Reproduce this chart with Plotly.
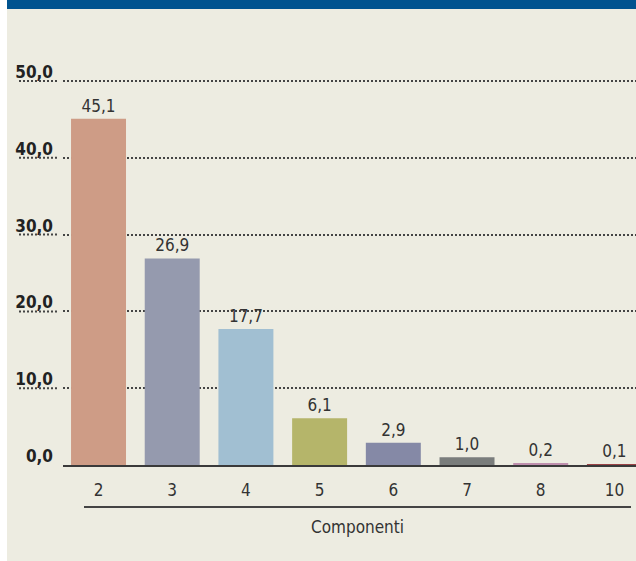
import plotly.graph_objects as go

categories = ["2", "3", "4", "5", "6", "7", "8", "10"]
values = [45.1, 26.9, 17.7, 6.1, 2.9, 1.0, 0.2, 0.1]
colors = ["#CE9C86", "#959AAE", "#A1BFD2", "#B5B56A", "#8589A6", "#7A7D7C", "#BF8FAE", "#9B4346"]
y_ticks = [0, 10, 20, 30, 40, 50]
x_title = "Componenti"

FONT = "Liberation Sans Narrow, DejaVu Sans Condensed, Arial Narrow, sans-serif"
W, H = 636, 561
L, R, T, B = 63, 0, 43, 96
PW = W - L - R
PH = H - T - B

def px_x(p):
    return (p - L) / PW

def px_y(p):
    return (H - B - p) / PH

fig = go.Figure()
fig.add_trace(go.Bar(
    x=categories, y=values,
    marker=dict(color=colors, line=dict(width=0)),
    text=values, texttemplate="%{y:.1f}", textposition="outside",
    textfont=dict(family=FONT, size=17, color="#333333"),
    cliponaxis=False, width=0.746,
))

shapes = []
# white left strip and blue top band
shapes.append(dict(type="rect", xref="paper", yref="paper", x0=px_x(0), x1=px_x(7),
                   y0=px_y(H), y1=px_y(0), fillcolor="white", line=dict(width=0), layer="above"))
shapes.append(dict(type="rect", xref="paper", yref="paper", x0=px_x(7), x1=px_x(W),
                   y0=px_y(9), y1=px_y(0), fillcolor="#00538F", line=dict(width=0), layer="above"))
# dotted underline segments under y labels
for v in y_ticks[1:]:
    shapes.append(dict(type="line", xref="paper", yref="y", x0=px_x(19), x1=px_x(57), y0=v, y1=v,
                       line=dict(color="#444444", width=2, dash="2px,2px")))
# line under x labels
shapes.append(dict(type="line", xref="paper", yref="paper", x0=px_x(84), x1=px_x(631),
                   y0=px_y(507), y1=px_y(507), line=dict(color="#444444", width=2)))

fig.update_layout(
    width=W, height=H,
    margin=dict(l=L, r=R, t=T, b=B, pad=0),
    paper_bgcolor="#EDECE1", plot_bgcolor="rgba(0,0,0,0)",
    separators=",.",
    showlegend=False,
    font=dict(family=FONT, color="#333333"),
    shapes=shapes,
    annotations=[dict(text=x_title, xref="paper", yref="paper", x=px_x(357.5), y=px_y(527),
                      xanchor="center", yanchor="middle", showarrow=False,
                      font=dict(family=FONT, size=17, color="#333333"))],
)
fig.update_xaxes(
    type="category", range=[-0.482, -0.482 + PW / 73.7],
    showgrid=False, showline=True, linecolor="#3A3A3A", linewidth=2,
    ticks="", tickfont=dict(family=FONT, size=17, color="#333333"),
    ticklabelstandoff=9, fixedrange=True,
)
fig.update_yaxes(
    range=[0, PH / 7.68], tickvals=y_ticks, tickformat=".1f",
    showgrid=True, gridcolor="#444444", gridwidth=2, griddash="2px,2px",
    zeroline=False, showline=False, ticks="",
    tickfont=dict(family=FONT, size=17, color="#222222", weight="bold"),
    ticklabelshift=-9, ticklabelstandoff=9, fixedrange=True,
)
fig.write_html("out.html", config={"displayModeBar": False},
               post_script="document.body.style.margin='0';document.body.style.overflow='hidden';")
